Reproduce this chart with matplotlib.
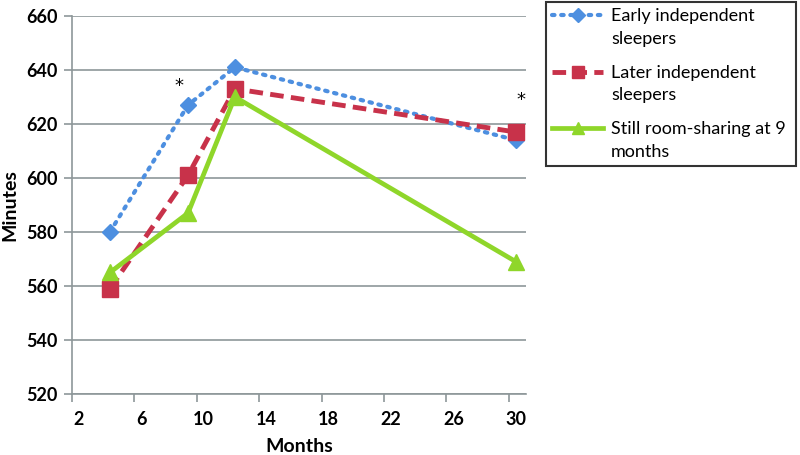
import numpy as np
import matplotlib.pyplot as plt
from matplotlib.legend_handler import HandlerLine2D
from matplotlib.lines import Line2D
from matplotlib.transforms import Affine2D

plt.rcParams['font.family'] = ['Lato', 'DejaVu Sans']

# data
months = [4, 9, 12, 30]
early = [580, 627, 641, 614]
later = [559, 601, 633, 617]
still = [565, 587, 630, 569]
labels = ['Early independent\nsleepers', 'Later independent\nsleepers', 'Still room-sharing at 9\nmonths']
star_x = [8.4, 30.3]
star_y = [634, 629]
x_ticks = [2, 6, 10, 14, 18, 22, 26, 30]
y_ticks = [520, 540, 560, 580, 600, 620, 640, 660]


class FirstLineHandler(HandlerLine2D):
    # put the legend key level with the first text line, like Excel does
    def create_artists(self, legend, orig_handle, xdescent, ydescent, width, height, fontsize, trans):
        arts = super().create_artists(legend, orig_handle, xdescent, ydescent, width, height, fontsize, trans)
        for a in arts:
            a.set_transform(Affine2D().translate(0, 0.68 * fontsize) + trans)
        return arts


grey = '#8d9799'
fig = plt.figure(figsize=(8, 4.55), dpi=100)
ax = fig.add_axes([0.0896, 0.134, 0.568, 0.831])

l1, = ax.plot(months, early, color='#4d8fe0', ls=(0, (0.6, 1.6)), lw=3.0, dash_capstyle='round',
              marker='D', ms=8, mec='#4d8fe0', zorder=3)
l2, = ax.plot(months, later, color='#c8324a', ls=(0, (2.8, 1.5)), lw=3.5,
              marker='s', ms=11, mec='#c8324a', zorder=3)
l3, = ax.plot(months, still, color='#8fd62a', ls='-', lw=3.4,
              marker='^', ms=11, mec='#8fd62a', zorder=3)

for x, y in zip(star_x, star_y):
    ax.text(x, y, '*', ha='center', va='center', fontsize=13, family='DejaVu Sans', color='black')

ax.set_ylim(520, 660)
ax.set_xlim(1.55, 30.65)
ax.set_yticks(y_ticks)
ax.set_xticks(x_ticks)
# tick marks sit a little left of the labels in the original
ax.set_xticks([t - 0.45 for t in x_ticks], minor=True)
ax.tick_params(axis='x', which='major', length=0, pad=12)
ax.tick_params(axis='x', which='minor', length=6, color=grey, width=1.2)
ax.tick_params(axis='y', length=6, color=grey, width=1.2, pad=4)
for t in ax.get_xticklabels() + ax.get_yticklabels():
    t.set_fontweight('bold')
    t.set_fontsize(13)

ax.grid(axis='y', color=grey, lw=1.2)
ax.set_axisbelow(True)
for s in ['top', 'right']:
    ax.spines[s].set_visible(False)
for s in ['left', 'bottom']:
    ax.spines[s].set_color(grey)
    ax.spines[s].set_linewidth(1.2)

ax.set_xlabel('Months', fontsize=14, fontweight='bold')
ax.set_ylabel('Minutes', fontsize=14, fontweight='bold')
ax.xaxis.set_label_coords(0.5, -0.117)
ax.yaxis.set_label_coords(-0.117, 0.5)

leg = fig.legend([l1, l2, l3], labels, loc='upper left', bbox_to_anchor=(0.6825, 0.996, 0.313, 0),
                 bbox_transform=fig.transFigure, mode='expand', fontsize=13, frameon=True,
                 fancybox=False, edgecolor='black', borderaxespad=0, handlelength=2.8,
                 labelspacing=1.0, markerscale=0.85, borderpad=0.35, handletextpad=0.45,
                 handler_map={Line2D: FirstLineHandler()})
leg.get_frame().set_linewidth(1.5)
for t in leg.get_texts():
    t.set_linespacing(1.5)

fig.savefig('out.png', dpi=100)
